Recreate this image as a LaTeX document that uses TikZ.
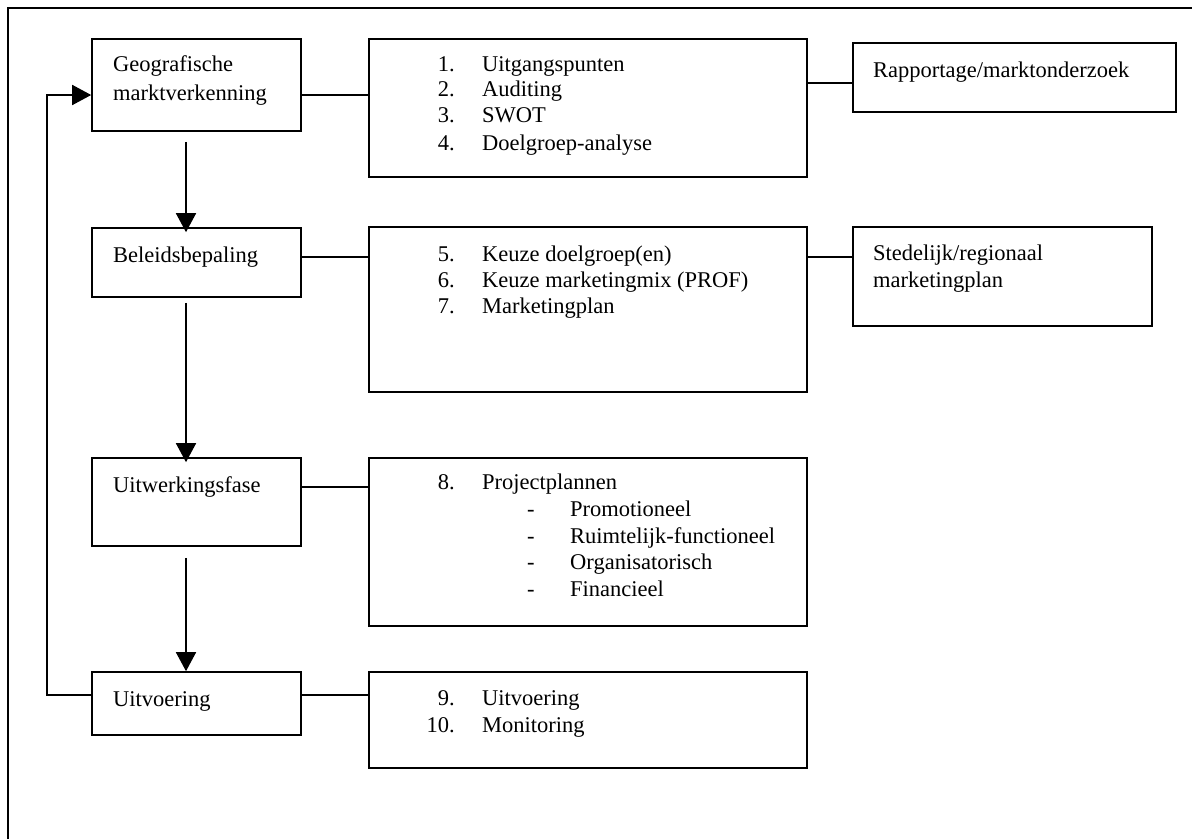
\documentclass[tikz,border=0pt]{standalone}
\usepackage{fontspec}
\setmainfont{Liberation Serif}
\usetikzlibrary{arrows.meta}
\tikzset{>={Triangle[length=19pt,width=20pt]}}
\tikzset{
  box/.style={draw, line width=1.6pt, inner sep=0pt},
  txt/.style={font=\fontsize{22.5}{27}\selectfont, inner sep=0pt, anchor=base west},
  num/.style={txt, anchor=base east},
  link/.style={line width=1.6pt},
}

\begin{document}
\begin{tikzpicture}[x=1pt,y=-1pt]
  \useasboundingbox (0,0) rectangle (1192,839);
  % frame
  \draw[link] (8,839) -- (8,8) -- (1192,8);
  % phases
  \node[box, minimum width=209pt, minimum height=92pt] (geo) at (196.5,85) {};
  \node[box, minimum width=209pt, minimum height=69pt] (bel) at (196.5,262.5) {};
  \node[box, minimum width=209pt, minimum height=88pt] (uitw) at (196.5,502) {};
  \node[box, minimum width=209pt, minimum height=63pt] (uitv) at (196.5,703.5) {};
  % steps
  \node[box, minimum width=438pt, minimum height=138pt] (m1) at (588,108) {};
  \node[box, minimum width=438pt, minimum height=165pt] (m2) at (588,309.5) {};
  \node[box, minimum width=438pt, minimum height=168pt] (m3) at (588,542) {};
  \node[box, minimum width=438pt, minimum height=96pt] (m4) at (588,720) {};
  % outputs
  \node[box, minimum width=323pt, minimum height=69pt] (r1) at (1014.5,77.5) {};
  \node[box, minimum width=299pt, minimum height=99pt] (r2) at (1002.5,276.5) {};
  % texts of the phases
  \foreach \t/\y [count=\i] in {Geografische/71, marktverkenning/100, Beleidsbepaling/262, Uitwerkingsfase/492, Uitvoering/706}
    \node[txt] (phase\i) at (113,\y) {\t};
  % numbered steps
  \foreach \n/\t/\y [count=\i] in {1./Uitgangspunten/71, 2./Auditing/96, 3./SWOT/122, 4./Doelgroep-analyse/150,
      5./Keuze doelgroep(en)/261, 6./Keuze marketingmix (PROF)/287, 7./Marketingplan/313,
      8./Projectplannen/489, 9./Uitvoering/705, 10./Monitoring/732} {
    \node[num] (nr\i) at (455,\y) {\n};
    \node[txt] (step\i) at (482,\y) {\t};
  }
  % project plans
  \foreach \t/\y [count=\i] in {Promotioneel/516, Ruimtelijk-functioneel/543, Organisatorisch/569, Financieel/596} {
    \node[txt] (dash\i) at (527,\y) {-};
    \node[txt] (sub\i) at (570,\y) {\t};
  }
  % texts of the outputs
  \node[txt] (out1) at (873,77) {Rapportage/marktonderzoek};
  \node[txt] (out2) at (873,260) {Stedelijk/regionaal};
  \node[txt] (out3) at (873,287) {marketingplan};
  % horizontal links
  \draw[link] (geo.east |- 0,95) -- (m1.west |- 0,95);
  \draw[link] (m1.east |- 0,83) -- (r1.west |- 0,83);
  \draw[link] (bel.east |- 0,257) -- (m2.west |- 0,257);
  \draw[link] (m2.east |- 0,257) -- (r2.west |- 0,257);
  \draw[link] (uitw.east |- 0,487) -- (m3.west |- 0,487);
  \draw[link] (uitv.east |- 0,695) -- (m4.west |- 0,695);
  % arrows down
  \draw[link,->,shorten <=10pt,shorten >=-5pt] (geo.south -| 186,0) -- (bel.north -| 186,0);
  \draw[link,->,shorten <=5pt,shorten >=-5pt] (bel.south -| 186,0) -- (uitw.north -| 186,0);
  \draw[link,->,shorten <=11pt] (uitw.south -| 186,0) -- (uitv.north -| 186,0);
  % feedback
  \draw[link,->] (uitv.west |- 0,695) -- (47,695) -- (47,95) -- (geo.west |- 0,95);
\end{tikzpicture}
\end{document}
